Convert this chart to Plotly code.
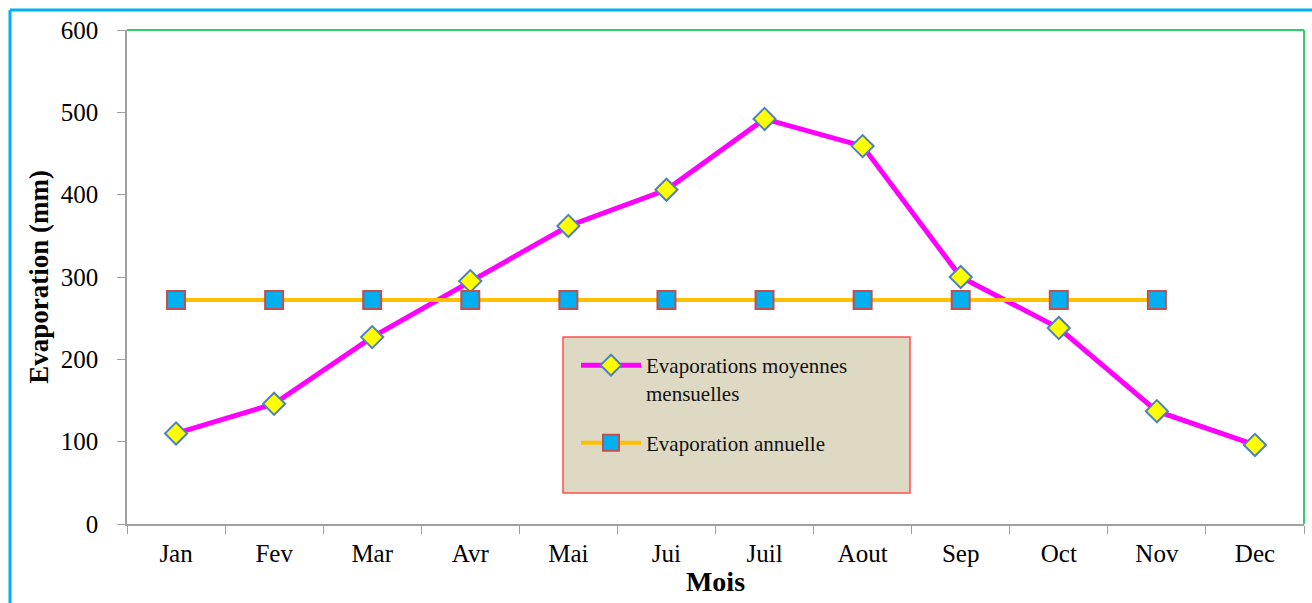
import plotly.graph_objects as go

# Monthly mean evaporation (mm) and the annual reference level
mois = ["Jan", "Fev", "Mar", "Avr", "Mai", "Jui", "Juil", "Aout", "Sep", "Oct", "Nov", "Dec"]
evap_mensuelle = [110, 146, 227, 295, 362, 406, 492, 459, 300, 238, 137, 96]
evap_annuelle = [272] * 11
mois_annuelle = mois[:11]

W, H = 1312, 603
L, R, T, B = 127, 8, 30, 79
pw, ph = W - L - R, H - T - B

def px(x):
    return (x - L) / pw

def py(y):
    return (H - B - y) / ph

serif = "Liberation Serif, Times New Roman, serif"

fig = go.Figure()
fig.add_trace(go.Scatter(
    x=mois, y=evap_mensuelle, mode="lines+markers",
    name="Evaporations moyennes<br>mensuelles", legendgroup="mens",
    line=dict(color="#FF00FF", width=5),
    marker=dict(symbol="diamond", size=17, color="#FFFF00",
                line=dict(color="#4F81BD", width=2)),
))
fig.add_trace(go.Scatter(
    x=mois_annuelle, y=evap_annuelle, mode="lines+markers",
    name="Evaporation annuelle", legendgroup="ann",
    line=dict(color="#FFC000", width=4),
    marker=dict(symbol="square", size=18, color="#00B0F0",
                line=dict(color="#C0504D", width=2)),
))

shapes = [
    # legend panel
    dict(type="rect", xref="paper", yref="paper",
         x0=px(563), x1=px(910), y0=py(493), y1=py(337),
         fillcolor="#DDD9C3", line=dict(color="#FF5050", width=1.5), layer="below"),
    # green frame on top and right of the plot area
    dict(type="line", xref="paper", yref="paper", x0=0, x1=1, y0=1, y1=1,
         line=dict(color="#33CC66", width=2)),
    dict(type="line", xref="paper", yref="paper", x0=1, x1=1, y0=0, y1=1,
         line=dict(color="#33CC66", width=2)),
    # outer cyan frame
    dict(type="line", xref="paper", yref="paper", x0=px(10), x1=px(10), y0=py(10), y1=py(603),
         line=dict(color="#00B0F0", width=3)),
    dict(type="line", xref="paper", yref="paper", x0=px(10), x1=px(1312), y0=py(10), y1=py(10),
         line=dict(color="#00B0F0", width=3)),
]

fig.update_layout(
    width=W, height=H,
    margin=dict(l=L, r=R, t=T, b=B),
    paper_bgcolor="white", plot_bgcolor="white",
    font=dict(family=serif, color="black", size=24),
    showlegend=True,
    legend=dict(
        x=px(576), y=py(345), xanchor="left", yanchor="top",
        bgcolor="rgba(0,0,0,0)", borderwidth=0, valign="top",
        font=dict(family=serif, size=21, color="#111111"),
        tracegroupgap=20, itemwidth=60,
    ),
    shapes=shapes,
    xaxis=dict(
        type="category", range=[-0.5, 11.5], tickson="boundaries",
        showline=True, linecolor="#A0A0A0", linewidth=1.5,
        ticks="outside", ticklen=8, tickcolor="#A0A0A0",
        showgrid=False, zeroline=False, ticklabelstandoff=6,
        tickfont=dict(family=serif, size=25),
        title=dict(text="<b>Mois</b>", font=dict(family=serif, size=28), standoff=6),
    ),
    yaxis=dict(
        range=[0, 600], dtick=100,
        showline=True, linecolor="#A0A0A0", linewidth=1.5,
        ticks="outside", ticklen=8, tickcolor="#A0A0A0",
        showgrid=False, zeroline=False, ticklabelstandoff=14,
        tickfont=dict(family=serif, size=25),
        title=dict(text="<b>Evaporation (mm)</b>", font=dict(family=serif, size=27), standoff=4),
    ),
)

fig.write_html("out.html")
